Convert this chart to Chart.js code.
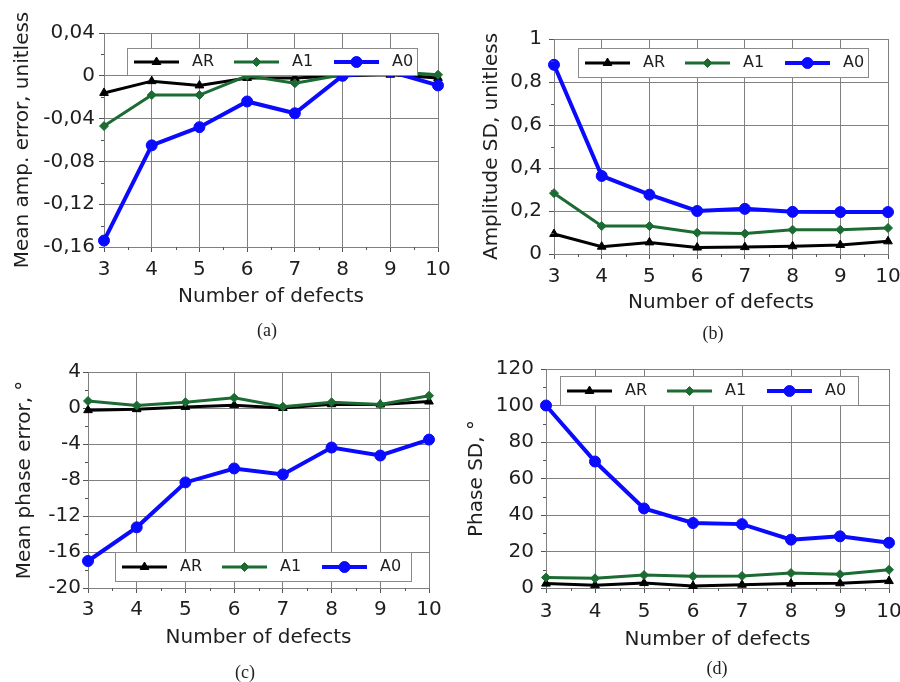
<!DOCTYPE html>
<html><head><meta charset="utf-8">
<script src="https://cdn.jsdelivr.net/npm/chart.js@4.4.0/dist/chart.umd.min.js"></script>
<style>
html,body{margin:0;padding:0;background:#fff;overflow:hidden;width:900px;height:682px}
.p{position:absolute}
canvas{display:block}
.cap{position:absolute;font-family:'Liberation Serif','Times New Roman',serif;font-size:18px;color:#222;transform:translate(-50%,-50%);white-space:nowrap}
</style></head><body>
<div class="p" style="left:0;top:0"><canvas id="ca" width="450" height="340"></canvas></div>
<div class="p" style="left:450px;top:0"><canvas id="cb" width="450" height="340"></canvas></div>
<div class="p" style="left:0;top:340px"><canvas id="cc" width="450" height="342"></canvas></div>
<div class="p" style="left:450px;top:340px"><canvas id="cd" width="450" height="342"></canvas></div>
<div class="cap" style="left:267px;top:330px">(a)</div>
<div class="cap" style="left:713px;top:333px">(b)</div>
<div class="cap" style="left:245px;top:672px">(c)</div>
<div class="cap" style="left:717px;top:668px">(d)</div>
<script>
// ---- data ----
const defects = [3, 4, 5, 6, 7, 8, 9, 10];
const seriesNames = ['AR', 'A1', 'A0'];
const xTitle = 'Number of defects';

// (a) mean amplitude error
const ampErrAR = [-0.016, -0.005, -0.009, -0.002, -0.002, 0.000, 0.001, -0.002];
const ampErrA1 = [-0.047, -0.018, -0.018, 0.000, -0.007, 0.001, 0.004, 0.001];
const ampErrA0 = [-0.154, -0.065, -0.048, -0.024, -0.035, 0.000, 0.004, -0.009];
const ampErrTicks = ['-0,16', '-0,12', '-0,08', '-0,04', '0', '0,04'];

// (b) amplitude SD
const ampSdAR = [0.093, 0.034, 0.054, 0.030, 0.032, 0.036, 0.042, 0.059];
const ampSdA1 = [0.283, 0.130, 0.130, 0.099, 0.095, 0.113, 0.113, 0.121];
const ampSdA0 = [0.880, 0.363, 0.276, 0.200, 0.210, 0.196, 0.195, 0.195];
const ampSdTicks = ['0', '0,2', '0,4', '0,6', '0,8', '1'];

// (c) mean phase error
const phErrAR = [-0.24, -0.13, 0.12, 0.31, 0.00, 0.42, 0.39, 0.72];
const phErrA1 = [0.78, 0.27, 0.64, 1.13, 0.15, 0.63, 0.38, 1.36];
const phErrA0 = [-17.0, -13.26, -8.27, -6.72, -7.38, -4.39, -5.28, -3.51];
const phErrTicks = ['-20', '-16', '-12', '-8', '-4', '0', '4'];

// (d) phase SD
const phSdAR = [2.4, 1.5, 2.7, 1.1, 1.8, 2.4, 2.6, 3.8];
const phSdA1 = [5.8, 5.3, 7.1, 6.4, 6.6, 8.2, 7.5, 10.0];
const phSdA0 = [100, 69.3, 43.6, 35.6, 35.0, 26.5, 28.3, 24.8];
const phSdTicks = ['0', '20', '40', '60', '80', '100', '120'];

// ---- styles ----
const colAR = '#000000', colA1 = '#1b6b32', colA0 = '#0a0aff';
const gridCol = '#808080', textCol = '#1e1e1e', tickCol = '#555';
const FAM = "'DejaVu Sans', sans-serif";
const mainFont = {family: FAM, size: 20};

const minorTicks = {
  id: 'minorTicks',
  afterDraw(chart) {
    const ctx = chart.ctx, ca = chart.chartArea;
    ctx.save();
    ctx.strokeStyle = tickCol; ctx.lineWidth = 1;
    const xs = chart.scales.x, ys = chart.scales.y;
    for (let i = 0; i < xs.ticks.length - 1; i++) {
      const m = Math.round((xs.getPixelForValue(xs.ticks[i].value) + xs.getPixelForValue(xs.ticks[i + 1].value)) / 2) + 0.5;
      ctx.beginPath(); ctx.moveTo(m, ca.bottom); ctx.lineTo(m, ca.bottom + 3); ctx.stroke();
    }
    for (let i = 0; i < ys.ticks.length - 1; i++) {
      const m = Math.round((ys.getPixelForValue(ys.ticks[i].value) + ys.getPixelForValue(ys.ticks[i + 1].value)) / 2) + 0.5;
      ctx.beginPath(); ctx.moveTo(ca.left - 3, m); ctx.lineTo(ca.left, m); ctx.stroke();
    }
    ctx.restore();
  }
};

function legendPlugin(box) {
  return {
    id: 'insideLegend',
    afterDatasetsDraw(chart) {
      const ctx = chart.ctx, ca = chart.chartArea;
      const bx = ca.left + box.dx;
      const by = box.fromBottom ? ca.bottom - box.dy - box.h : ca.top + box.dy;
      ctx.save();
      ctx.fillStyle = '#fff';
      ctx.fillRect(bx, by, box.w, box.h);
      ctx.strokeStyle = '#8a8a8a'; ctx.lineWidth = 1;
      ctx.strokeRect(Math.round(bx) + 0.5, Math.round(by) + 0.5, box.w, box.h);
      const cy = by + box.h / 2 + 0.5;
      chart.data.datasets.forEach((ds, i) => {
        const x0 = bx + 7 + i * box.step;
        ctx.strokeStyle = ds.borderColor; ctx.lineWidth = ds.borderWidth;
        ctx.beginPath(); ctx.moveTo(x0, cy); ctx.lineTo(x0 + 45, cy); ctx.stroke();
        ctx.fillStyle = ds.backgroundColor; ctx.strokeStyle = ds.borderColor; ctx.lineWidth = 1;
        Chart.helpers.drawPoint(ctx, {pointStyle: ds.pointStyle, radius: ds.pointRadius, borderWidth: 1, rotation: 0}, x0 + 22.5, cy);
        ctx.fillStyle = textCol;
        ctx.font = "16px " + FAM;
        ctx.textBaseline = 'middle'; ctx.textAlign = 'left';
        ctx.fillText(ds.label, x0 + 58, cy);
      });
      ctx.restore();
    }
  };
}

function fmt(v) { return (Math.round(v * 100) / 100).toString().replace('.', ','); }

function makeChart(id, c) {
  const mk = (label, data, color, style, radius, width, order) => ({
    label, data: defects.map((x, i) => ({x, y: data[i]})),
    borderColor: color, backgroundColor: color, pointBackgroundColor: color, pointBorderColor: color,
    pointStyle: style, pointRadius: radius, pointHoverRadius: radius, pointBorderWidth: 1,
    borderWidth: width, tension: 0, clip: false, order
  });
  new Chart(document.getElementById(id), {
    type: 'line',
    data: {datasets: [
      mk(seriesNames[0], c.ar, colAR, 'triangle', 5, 3, 3),
      mk(seriesNames[1], c.a1, colA1, 'rectRot', 4.5, 3, 2),
      mk(seriesNames[2], c.a0, colA0, 'circle', 5.5, 4, 1)
    ]},
    options: {
      responsive: false, animation: false, devicePixelRatio: 1,
      layout: {padding: {left: 0, top: c.top, right: c.right, bottom: 0}},
      plugins: {legend: {display: false}, tooltip: {enabled: false}},
      scales: {
        x: {
          type: 'linear', min: 3, max: 10,
          ticks: {stepSize: 1, padding: c.xtp, color: textCol, font: mainFont, maxRotation: 0, autoSkip: false},
          grid: {color: gridCol, tickLength: 5, tickColor: tickCol},
          border: {color: gridCol},
          title: {display: true, text: xTitle, color: textCol, font: mainFont, padding: {top: 0, bottom: c.xtitle}},
          afterFit: s => { s.height = c.xh; s.paddingLeft = 0; s.paddingRight = 0; }
        },
        y: {
          type: 'linear', min: c.min, max: c.max,
          ticks: {stepSize: c.step, padding: c.ytp, color: textCol, font: mainFont,
                  callback: (v, i) => (c.labels[i] !== undefined ? c.labels[i] : fmt(v))},
          grid: {color: gridCol, tickLength: 5, tickColor: tickCol},
          border: {color: gridCol},
          title: {display: true, text: c.ytitle, color: textCol, font: mainFont, padding: {top: c.ytitlePad, bottom: 0}},
          afterFit: s => { s.width = c.yw; s.paddingTop = 0; s.paddingBottom = 0; }
        }
      }
    },
    plugins: [minorTicks, legendPlugin(c.legend)]
  });
}

makeChart('ca', {ar: ampErrAR, a1: ampErrA1, a0: ampErrA0, min: -0.16, max: 0.04, step: 0.04, labels: ampErrTicks,
  ytitle: 'Mean amp. error, unitless', top: 33, right: 12, yw: 104, xh: 93, xtp: 6, xtitle: 31, ytp: 4, ytitlePad: 11,
  legend: {dx: 23, dy: 15, w: 290, h: 27, step: 100}});
makeChart('cb', {ar: ampSdAR, a1: ampSdA1, a0: ampSdA0, min: 0, max: 1, step: 0.2, labels: ampSdTicks,
  ytitle: 'Amplitude SD, unitless', top: 39, right: 12, yw: 104, xh: 86, xtp: 6, xtitle: 25, ytp: 7, ytitlePad: 30,
  legend: {dx: 24, dy: 9, w: 290, h: 29, step: 100}});
makeChart('cc', {ar: phErrAR, a1: phErrA1, a0: phErrA0, min: -20, max: 4, step: 4, labels: phErrTicks,
  ytitle: 'Mean phase error, °', top: 32, right: 21, yw: 88, xh: 94, xtp: 5, xtitle: 32, ytp: 2, ytitlePad: 13,
  legend: {dx: 27, dy: 7, w: 296, h: 29, step: 100, fromBottom: true}});
makeChart('cd', {ar: phSdAR, a1: phSdA1, a0: phSdA0, min: 0, max: 120, step: 20, labels: phSdTicks,
  ytitle: 'Phase SD, °', top: 29, right: 11, yw: 96, xh: 94, xtp: 7, xtitle: 30, ytp: 7, ytitlePad: 15,
  legend: {dx: 14, dy: 7, w: 298, h: 29, step: 100}});
</script>
</body></html>
